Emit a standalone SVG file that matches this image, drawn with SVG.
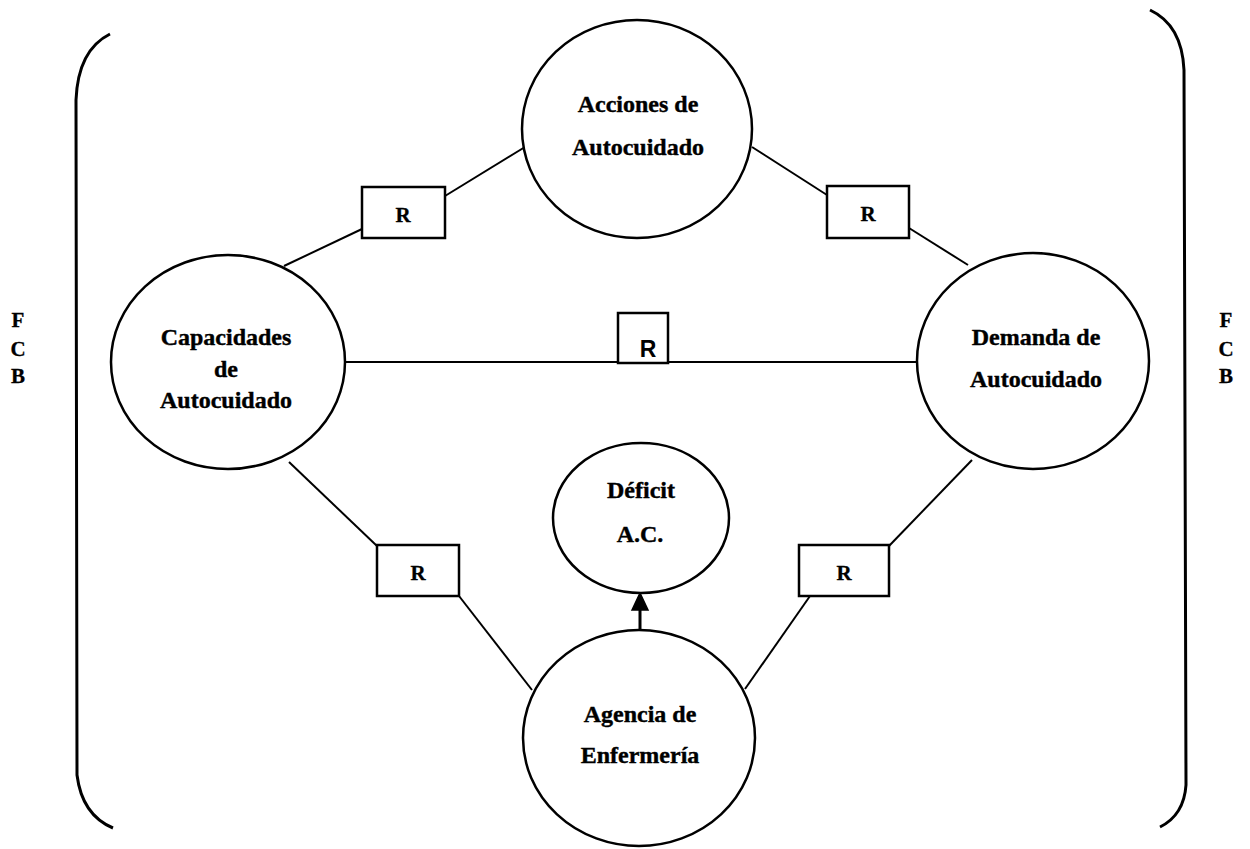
<svg xmlns="http://www.w3.org/2000/svg" width="1250" height="849" viewBox="0 0 1250 849">
<defs>
<style>
.node{fill:#fff;stroke:#000;stroke-width:2.5}
.box{fill:#fff;stroke:#000;stroke-width:2.5}
.t{font-family:"Liberation Serif","Times New Roman",serif;font-weight:bold;font-size:24px;fill:#000;stroke:#000;stroke-width:0.4;text-anchor:middle}
.r{font-family:"Liberation Serif","Times New Roman",serif;font-weight:bold;font-size:21px;fill:#000;stroke:#000;stroke-width:0.3;text-anchor:middle}
.conn{stroke:#000;stroke-width:2;fill:none}
.br{stroke:#000;stroke-width:3;fill:none}
</style>
</defs>
<rect width="1250" height="849" fill="#fff"/>
<g id="brackets">
<path class="br" d="M110,34 Q78,50 76,100 L77,775 Q82,815 113,828"/>
<path class="br" d="M1150,10 Q1182,25 1184,70 L1186,785 Q1184,815 1160,827"/>
</g>
<g id="connectors">
<line class="conn" x1="284" y1="266" x2="362" y2="229"/>
<line class="conn" x1="445" y1="196" x2="525" y2="147"/>
<line class="conn" x1="752" y1="147" x2="827" y2="195"/>
<line class="conn" x1="909" y1="228" x2="968" y2="265"/>
<line class="conn" x1="343" y1="362" x2="917" y2="362"/>
<line class="conn" x1="289" y1="462" x2="377" y2="546"/>
<line class="conn" x1="459" y1="596" x2="532" y2="690"/>
<line class="conn" x1="972" y1="460" x2="889" y2="546"/>
<line class="conn" x1="810" y1="596" x2="745" y2="689"/>
<line x1="640" y1="630" x2="640" y2="608" stroke="#000" stroke-width="3"/>
<path d="M632,610 L640,593 L648,610 Z" fill="#000" stroke="#000" stroke-width="1.5"/>
</g>
<g id="acciones">
<ellipse class="node" cx="637" cy="129" rx="115" ry="109"/>
<text class="t" x="638" y="112">Acciones de</text>
<text class="t" x="638" y="155">Autocuidado</text>
</g>
<g id="capacidades">
<ellipse class="node" cx="228" cy="362" rx="117" ry="107"/>
<text class="t" x="226" y="345">Capacidades</text>
<text class="t" x="226" y="377">de</text>
<text class="t" x="226" y="408">Autocuidado</text>
</g>
<g id="demanda">
<ellipse class="node" cx="1033" cy="361" rx="116" ry="108"/>
<text class="t" x="1036" y="345">Demanda de</text>
<text class="t" x="1036" y="387">Autocuidado</text>
</g>
<g id="deficit">
<ellipse class="node" cx="641" cy="518" rx="88" ry="75"/>
<text class="t" x="641" y="498">Déficit</text>
<text class="t" x="640" y="542">A.C.</text>
</g>
<g id="agencia">
<ellipse class="node" cx="639" cy="738" rx="116" ry="108"/>
<text class="t" x="640" y="722">Agencia de</text>
<text class="t" x="640" y="763">Enfermería</text>
</g>
<g id="r-top-left">
<rect class="box" x="362" y="187" width="83" height="51"/>
<text class="r" x="403" y="222">R</text>
</g>
<g id="r-top-right">
<rect class="box" x="827" y="186" width="82" height="52"/>
<text class="r" x="868" y="221">R</text>
</g>
<g id="r-middle">
<rect class="box" x="618" y="313" width="50" height="50"/>
<text x="648" y="357" font-family="'Liberation Sans',Arial,sans-serif" font-weight="bold" font-size="23" text-anchor="middle">R</text>
</g>
<g id="r-bottom-left">
<rect class="box" x="377" y="545" width="82" height="51"/>
<text class="r" x="418" y="580">R</text>
</g>
<g id="r-bottom-right">
<rect class="box" x="799" y="545" width="90" height="51"/>
<text class="r" x="844" y="580">R</text>
</g>
<g id="fcb-left">
<text class="r" x="18" y="327">F</text>
<text class="r" x="18" y="356">C</text>
<text class="r" x="18" y="383">B</text>
</g>
<g id="fcb-right">
<text class="r" x="1226" y="327">F</text>
<text class="r" x="1226" y="356">C</text>
<text class="r" x="1226" y="383">B</text>
</g>
</svg>
